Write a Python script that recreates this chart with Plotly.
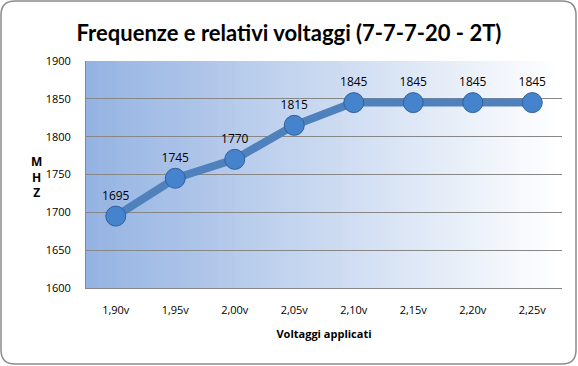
import plotly.graph_objects as go

categories = ["1,90v", "1,95v", "2,00v", "2,05v", "2,10v", "2,15v", "2,20v", "2,25v"]
mhz = [1695, 1745, 1770, 1815, 1845, 1845, 1845, 1845]
y_ticks = [1600, 1650, 1700, 1750, 1800, 1850, 1900]

W, H = 578, 366
ML, MR, MT, MB = 86, 16, 61, 78
pw, ph = W - ML - MR, H - MT - MB

fig = go.Figure()

# gradient background strips (left blue -> right white)
n = 80
c0 = (149, 179, 226)
c1 = (255, 255, 255)
for i in range(n):
    t = i / (n - 1)
    col = tuple(round(a + (b - a) * t) for a, b in zip(c0, c1))
    fig.add_shape(type="rect", xref="x domain", yref="y domain",
                  x0=i / n, x1=(i + 1) / n + 0.002, y0=0, y1=1,
                  fillcolor=f"rgb{col}", line=dict(width=0), layer="below")

fig.add_trace(go.Scatter(
    x=categories, y=mhz, mode="lines+markers+text",
    line=dict(color="#4f81bd", width=8),
    marker=dict(size=20, color="#4683cd", line=dict(color="#2f609e", width=1)),
    text=[str(v) for v in mhz], textposition="top center",
    textfont=dict(family="Open Sans, Arial", size=12, color="#000000"),
    cliponaxis=False, hoverinfo="skip"))

fig.update_layout(
    width=W, height=H,
    margin=dict(l=ML, r=MR, t=MT, b=MB),
    paper_bgcolor="white", plot_bgcolor="white",
    showlegend=False,
    title=dict(text="<b>Frequenze e relativi voltaggi (7-7-7-20 - 2T)</b>",
               x=0.5, xref="container", xanchor="center",
               y=1 - 33 / H, yref="container", yanchor="middle",
               font=dict(family="Lato, Open Sans", size=22, color="#000000")),
    xaxis=dict(type="category", showgrid=False, showline=True, linecolor="#878787",
               linewidth=1, ticks="", ticklabelstandoff=12,
               tickfont=dict(family="Open Sans, Arial", size=11, color="#000"),
               title=dict(text="<b>Voltaggi applicati</b>", standoff=14,
                          font=dict(family="Open Sans, Arial", size=11, color="#000")),
               range=[-0.5, 7.5], fixedrange=True),
    yaxis=dict(range=[1600, 1900], tickvals=y_ticks, showgrid=True, gridcolor="#878787",
               gridwidth=1, showline=True, linecolor="#878787", linewidth=1, ticks="",
               ticklabelstandoff=12,
               tickfont=dict(family="Open Sans, Arial", size=11, color="#000"),
               zeroline=False, fixedrange=True),
)

fig.add_annotation(text="<b>M<br>H<br>Z</b>", xref="paper", yref="paper",
                   x=(29 - ML) / pw, y=(H - MB - 177) / ph, showarrow=False, align="center",
                   font=dict(family="Open Sans, Arial", size=12, color="#000"))

# rounded outer border
def px(xp):
    return (xp - ML) / pw
def py(yp):
    return (H - MB - yp) / ph
x0, x1, y0, y1, rr = 1, 576, 1, 364, 14
path = (f"M {px(x0+rr)},{py(y0)} L {px(x1-rr)},{py(y0)} "
        f"Q {px(x1)},{py(y0)} {px(x1)},{py(y0+rr)} L {px(x1)},{py(y1-rr)} "
        f"Q {px(x1)},{py(y1)} {px(x1-rr)},{py(y1)} L {px(x0+rr)},{py(y1)} "
        f"Q {px(x0)},{py(y1)} {px(x0)},{py(y1-rr)} L {px(x0)},{py(y0+rr)} "
        f"Q {px(x0)},{py(y0)} {px(x0+rr)},{py(y0)} Z")
fig.add_shape(type="path", xref="paper", yref="paper", path=path,
              line=dict(color="#8c8c8c", width=1.5), fillcolor="rgba(0,0,0,0)", layer="above")

fig.write_html("out.html", config={"displayModeBar": False},
               post_script="document.body.style.margin='0';document.body.style.overflow='hidden';")
